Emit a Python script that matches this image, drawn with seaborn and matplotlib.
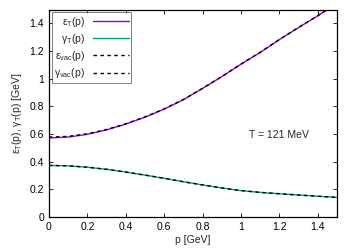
import numpy as np
import pandas as pd
import matplotlib
matplotlib.use("Agg")
import matplotlib.pyplot as plt
import seaborn as sns

p = [0.0, 0.1, 0.2, 0.3, 0.4, 0.5, 0.6, 0.7, 0.8, 0.9, 1.0, 1.1, 1.2, 1.3, 1.4, 1.5]
eps_T = [0.572, 0.578, 0.598, 0.630, 0.672, 0.722, 0.780, 0.848, 0.930, 1.015, 1.105, 1.190, 1.283, 1.370, 1.455, 1.545]
gam_T = [0.373, 0.370, 0.360, 0.345, 0.325, 0.303, 0.280, 0.255, 0.232, 0.210, 0.191, 0.178, 0.168, 0.159, 0.150, 0.142]
eps_vac = [0.578, 0.583, 0.602, 0.633, 0.674, 0.724, 0.782, 0.850, 0.931, 1.016, 1.106, 1.191, 1.284, 1.371, 1.456, 1.546]
gam_vac = [0.373, 0.370, 0.360, 0.345, 0.325, 0.303, 0.280, 0.255, 0.232, 0.210, 0.191, 0.178, 0.168, 0.159, 0.150, 0.142]

xticks = [0, 0.2, 0.4, 0.6, 0.8, 1.0, 1.2, 1.4]
xticklabels = ["0", "0.2", "0.4", "0.6", "0.8", "1", "1.2", "1.4"]
yticks = [0, 0.2, 0.4, 0.6, 0.8, 1.0, 1.2, 1.4]
yticklabels = ["0", "0.2", "0.4", "0.6", "0.8", "1", "1.2", "1.4"]

sns.set_style("ticks")
plt.rcParams['font.family'] = ['Liberation Sans', 'DejaVu Sans']
plt.rcParams['font.size'] = 7.5
plt.rcParams['mathtext.fontset'] = 'custom'
plt.rcParams['mathtext.rm'] = 'Liberation Sans'
plt.rcParams['mathtext.default'] = 'regular'

fig = plt.figure(figsize=(3.56, 2.49), dpi=100)
ax = fig.add_axes([0.1376, 0.1285, 0.809, 0.833])

df = pd.DataFrame({"p": p, "eps_T": eps_T, "gam_T": gam_T, "eps_vac": eps_vac, "gam_vac": gam_vac})

sns.lineplot(data=df, x="p", y="eps_T", ax=ax, color="#9400d3", lw=1.0, label=r"ε$_{T}$(p)")
sns.lineplot(data=df, x="p", y="gam_T", ax=ax, color="#009e73", lw=1.0, label=r"γ$_{T}$(p)")
sns.lineplot(data=df, x="p", y="eps_vac", ax=ax, color="black", lw=1.0, label=r"ε$_{vac}$(p)")
sns.lineplot(data=df, x="p", y="gam_vac", ax=ax, color="black", lw=1.0, label=r"γ$_{vac}$(p)")
lines = ax.get_lines()
lines[2].set_dashes([2.5, 2.5])
lines[3].set_dashes([2.5, 2.5])

ax.set_xlim(0, 1.5)
ax.set_ylim(0, 1.5)
ax.set_xticks(xticks)
ax.set_xticklabels(xticklabels)
ax.set_yticks(yticks)
ax.set_yticklabels(yticklabels)
ax.tick_params(direction="in", length=3, width=0.6, top=True, right=True, labelsize=7.5, pad=3.5, colors="black")
for s in ax.spines.values():
    s.set_visible(True)
    s.set_linewidth(0.9)
    s.set_color("black")

ax.set_xlabel("p [GeV]", fontsize=7.5, labelpad=2)
ax.set_ylabel(r"ε$_{T}$(p), γ$_{T}$(p) [GeV]", fontsize=7.5, labelpad=4)

ax.text(1.2, 0.59, "T = 121 MeV", ha="center", va="center", fontsize=7.5)

leg = ax.legend(loc="upper left", markerfirst=False, frameon=True, fancybox=False,
                edgecolor="#444444", fontsize=7.5, handlelength=3.4, borderaxespad=0.25,
                labelspacing=0.3, handletextpad=0.8, borderpad=0.25)
leg.get_frame().set_linewidth(0.6)
for t in leg.get_texts():
    t.set_ha("right")
leg._legend_box.align = "right"

fig.savefig("out.png", dpi=100)
